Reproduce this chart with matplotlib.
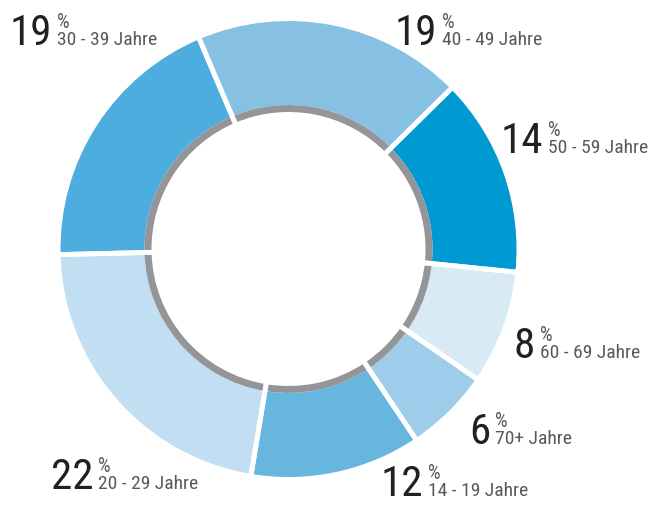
import matplotlib
matplotlib.use('Agg')
import matplotlib.pyplot as plt
from matplotlib import font_manager

# age groups, clockwise from the top
groups = ['40 - 49 Jahre', '50 - 59 Jahre', '60 - 69 Jahre', '70+ Jahre',
          '14 - 19 Jahre', '20 - 29 Jahre', '30 - 39 Jahre']
shares = [19, 14, 8, 6, 12, 22, 19]
colors = ['#86c1e4', '#0099d2', '#d7eaf6', '#9dcdeb', '#67b6e0', '#c1def2', '#4dadde']

# label anchors in pixels (right edge of number, baseline), y from top
label_pos = [(437, 45), (543, 153), (535, 358), (490, 444),
             (423, 496), (93, 489), (52, 45)]

W, H = 659, 506
names = {f.name for f in font_manager.fontManager.ttflist}
FONT = 'DejaVu Sans'
for cand in ['Liberation Sans Narrow', 'Roboto Condensed', 'DejaVu Sans']:
    if cand in names:
        FONT = cand
        break

fig = plt.figure(figsize=(W / 100, H / 100), dpi=100)
ax = fig.add_axes([0, 0, 1, 1])
ax.set_xlim(0, W)
ax.set_ylim(0, H)
ax.set_aspect('equal')
ax.axis('off')

cx, cy = 288.5, H - 250
r_out, r_mid, r_in = 228, 144, 137

# colored ring
ax.pie(shares, colors=colors, startangle=113, counterclock=False,
       radius=r_out, center=(cx, cy),
       wedgeprops=dict(width=r_out - r_mid, linewidth=0))
# gray inner ring
ax.pie(shares, colors=['#939598'] * len(shares), startangle=113, counterclock=False,
       radius=r_mid, center=(cx, cy),
       wedgeprops=dict(width=r_mid - r_in, linewidth=0))
# white gaps between segments
ax.pie(shares, colors=['none'] * len(shares), startangle=113, counterclock=False,
       radius=r_out + 4, center=(cx, cy),
       wedgeprops=dict(width=r_out - r_in + 8, linewidth=3.5, edgecolor='white'))
ax.set_xlim(0, W)
ax.set_ylim(0, H)

for g, s, (x, y) in zip(groups, shares, label_pos):
    ax.text(x, H - y, str(s), fontsize=31, family=FONT, color='#231f20',
            ha='right', va='baseline')
    ax.text(x + 5, H - y + 32, '%', fontsize=14.5, family=FONT, color='#58595b',
            ha='left', va='top')
    ax.text(x + 5, H - y, g, fontsize=14, family=FONT, color='#58595b',
            ha='left', va='baseline')

fig.savefig('out.png', dpi=100)
